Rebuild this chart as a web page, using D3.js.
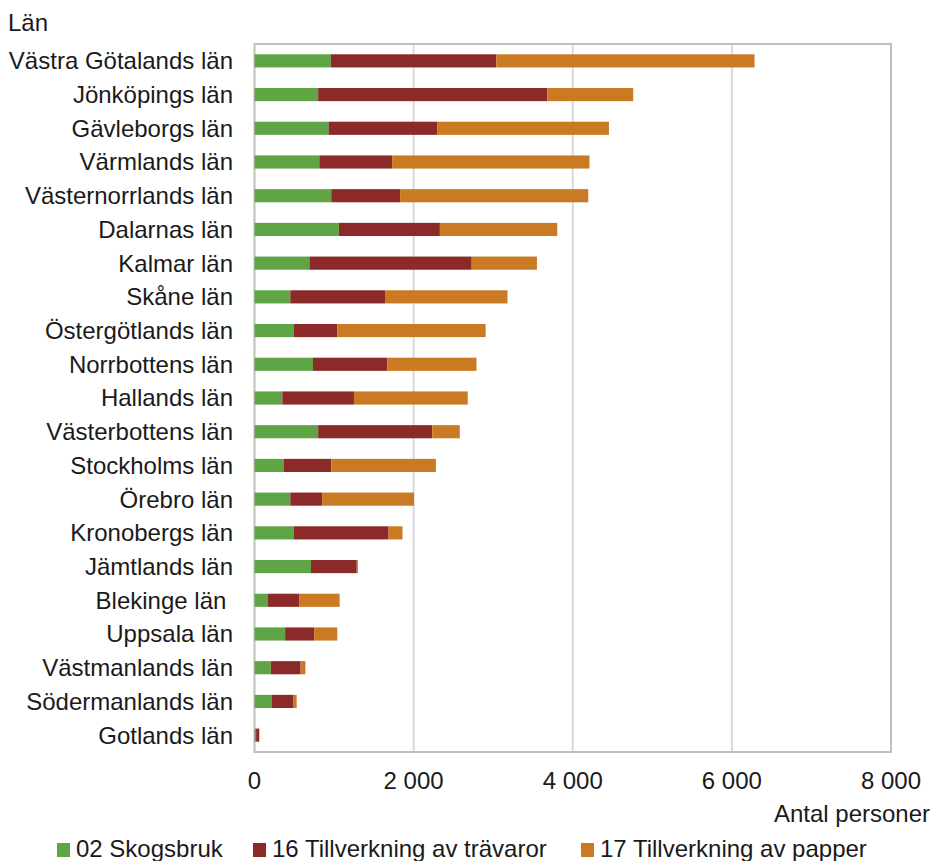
<!DOCTYPE html>
<html>
<head>
<meta charset="utf-8">
<script src="https://cdn.jsdelivr.net/npm/d3@7"></script>
<style>
  html, body { margin: 0; padding: 0; background: #fff; }
  svg { display: block; font-family: "Liberation Sans", Arial, sans-serif; }
</style>
</head>
<body>
<svg id="chart" width="931" height="861"></svg>
<script>
const categories = [
  "Västra Götalands län", "Jönköpings län", "Gävleborgs län", "Värmlands län",
  "Västernorrlands län", "Dalarnas län", "Kalmar län", "Skåne län",
  "Östergötlands län", "Norrbottens län", "Hallands län", "Västerbottens län",
  "Stockholms län", "Örebro län", "Kronobergs län", "Jämtlands län",
  "Blekinge län ", "Uppsala län", "Västmanlands län", "Södermanlands län",
  "Gotlands län"
];
const seriesNames = ["02 Skogsbruk", "16 Tillverkning av trävaror", "17 Tillverkning av papper"];
const skogsbruk = [960, 800, 930, 815, 965, 1060, 690, 450, 495, 735, 350, 800, 365, 450, 495, 710, 170, 385, 205, 220, 20];
const travaror  = [2080, 2880, 1370, 915, 865, 1270, 2040, 1190, 545, 935, 900, 1435, 600, 400, 1190, 575, 390, 365, 375, 265, 40];
const papper    = [3245, 1080, 2155, 2480, 2365, 1475, 820, 1540, 1865, 1120, 1430, 345, 1315, 1155, 175, 15, 510, 290, 60, 45, 0];
const xTicks = [0, 2000, 4000, 6000, 8000];
const colors = ["#60a545", "#8b2a28", "#c97a22"];

(function () {
  const rows = categories.map((c, i) => ({ cat: c, s0: skogsbruk[i], s1: travaror[i], s2: papper[i] }));
  const keys = ["s0", "s1", "s2"];
  const stacked = d3.stack().keys(keys)(rows);

  const svg = d3.select("#chart");
  const mLeft = 254.5, mRight = 891, mTop = 44, mBottom = 752;
  const fs = 24;

  const x = d3.scaleLinear().domain([0, 8000]).range([mLeft, mRight]);
  const y = d3.scaleBand().domain(categories).range([mTop, mBottom]).paddingInner(0.61).paddingOuter(0.305);

  // gridlines
  svg.append("g").selectAll("line").data(xTicks.slice(1, -1)).join("line")
    .attr("x1", d => x(d)).attr("x2", d => x(d))
    .attr("y1", mTop).attr("y2", mBottom)
    .attr("stroke", "#d9d9d9").attr("stroke-width", 2);

  // frame
  svg.append("rect").attr("x", mLeft).attr("y", mTop)
    .attr("width", mRight - mLeft).attr("height", mBottom - mTop)
    .attr("fill", "none").attr("stroke", "#bfbfbf").attr("stroke-width", 2);

  // bars
  svg.append("g").selectAll("g").data(stacked).join("g")
    .attr("fill", (d, i) => colors[i])
    .selectAll("rect").data(d => d).join("rect")
    .attr("x", d => x(d[0]))
    .attr("width", d => Math.max(0, x(d[1]) - x(d[0])))
    .attr("y", d => y(d.data.cat))
    .attr("height", y.bandwidth());

  // category labels
  svg.append("g").selectAll("text").data(categories).join("text")
    .attr("x", 233)
    .attr("y", d => y(d) + y.bandwidth() / 2)
    .attr("dy", "0.35em")
    .attr("text-anchor", "end")
    .style("white-space", "pre")
    .attr("font-size", fs)
    .attr("fill", "#1a1a1a")
    .text(d => d);

  // x axis tick labels
  svg.append("g").selectAll("text").data(xTicks).join("text")
    .attr("x", d => x(d))
    .attr("y", 789)
    .attr("text-anchor", "middle")
    .attr("font-size", fs)
    .attr("fill", "#1a1a1a")
    .text(d => d3.format(",")(d).replace(/,/g, " "));

  // axis titles
  svg.append("text").attr("x", 8).attr("y", 31).attr("font-size", fs).attr("fill", "#1a1a1a").text("Län");
  svg.append("text").attr("x", 930).attr("y", 822).attr("text-anchor", "end").attr("font-size", fs).attr("fill", "#1a1a1a").text("Antal personer");

  // legend
  const legendX = [57, 253, 581];
  const lg = svg.append("g").selectAll("g").data(seriesNames).join("g")
    .attr("transform", (d, i) => `translate(${legendX[i]},0)`);
  lg.append("rect").attr("x", 0).attr("y", 843).attr("width", 13).attr("height", 14)
    .attr("fill", (d, i) => colors[i]);
  lg.append("text").attr("x", 19).attr("y", 857).attr("font-size", fs).attr("fill", "#1a1a1a").text(d => d);
})();
</script>
</body>
</html>
